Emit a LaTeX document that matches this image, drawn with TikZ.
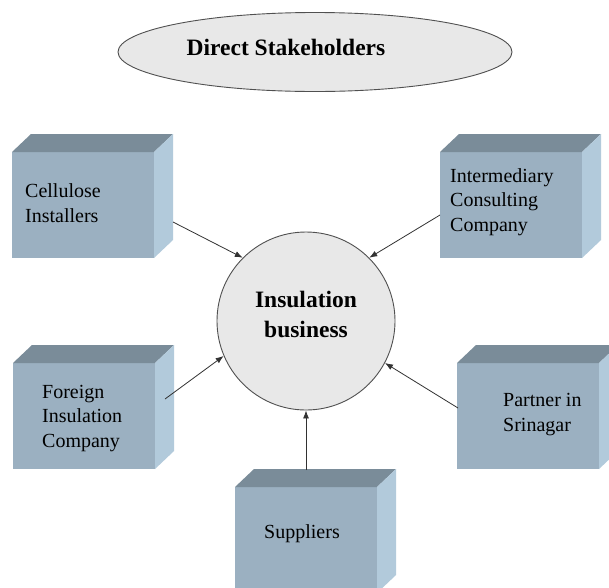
\documentclass[tikz,border=0pt]{standalone}
\usepackage{fontspec}
\setmainfont{Liberation Serif}
\usetikzlibrary{shapes.geometric,arrows.meta}
\definecolor{frontc}{RGB}{155,176,193}
\definecolor{topc}{RGB}{122,140,153}
\definecolor{sidec}{RGB}{178,202,219}
\definecolor{ovalc}{RGB}{232,232,232}
\definecolor{edgec}{RGB}{80,80,80}
\definecolor{linec}{RGB}{50,50,50}
\begin{document}
\begin{tikzpicture}[x=1pt,y=-1pt,
  front/.style={rectangle,fill=frontc,minimum width=142pt,minimum height=106pt,anchor=north west,inner sep=0pt,outer sep=0pt},
  topface/.style={fill=topc},
  sideface/.style={fill=sidec},
  lbl/.style={inner sep=0pt,align=left,anchor=base west,font=\fontsize{20}{24.5}\selectfont},
  conn/.style={draw=linec,line width=0.8pt,-{Latex[length=8pt,width=6pt]}}
]
\useasboundingbox (0,0) rectangle (609,587);
\clip (0,0) rectangle (609,587);
\fill[white] (0,0) rectangle (609,587);

% title ellipse
\node[ellipse,draw=edgec,line width=0.9pt,fill=ovalc,minimum width=394pt,minimum height=79pt,inner sep=0pt] (title) at (315,52) {};
\node[inner sep=0pt,anchor=base,font=\bfseries\fontsize{23.5}{28}\selectfont] (titletext) at (286,55) {Direct Stakeholders};

% center circle
\node[circle,draw=edgec,line width=0.9pt,fill=ovalc,minimum size=178pt,inner sep=0pt] (ins) at (306,321) {};
\node[inner sep=0pt,align=center,anchor=base,font=\bfseries\fontsize{23.5}{30}\selectfont] (instext) at (306,337) {Insulation\\business};

% boxes
\newcommand\mycube[3]{%
  \node[front] (#1) at (#2,#3) {};
  \fill[topface] (#1.north west) -- ++(19,-18) -- ([xshift=19pt,yshift=18pt]#1.north east) -- (#1.north east) -- cycle;
  \fill[sideface] (#1.north east) -- ++(19,-18) -- ([xshift=19pt,yshift=18pt]#1.south east) -- (#1.south east) -- cycle;
}
\mycube{cel}{12}{152}
\mycube{int}{440}{152}
\mycube{for}{13}{363}
\mycube{par}{457}{363}
\mycube{sup}{235}{487}

\node[lbl] (celt) at (25,222) {Cellulose\\Installers};
\node[lbl] (intt) at (450,231) {Intermediary\\Consulting\\Company};
\node[lbl] (fort) at (42,447) {Foreign\\Insulation\\Company};
\node[lbl] (part) at (503,431) {Partner in\\Srinagar};
\node[lbl,anchor=base] (supt) at (302,538) {Suppliers};

% connectors
\draw[conn] ([xshift=19pt,yshift=-17pt]cel.east) -- (ins.135);
\draw[conn] ([yshift=-10pt]int.west) -- (ins.45);
\draw[conn] ([xshift=10pt,yshift=17pt]for.east) -- (ins.203);
\draw[conn] ([xshift=1pt,yshift=8pt]par.west) -- (ins.-28);
\draw[conn] ([yshift=17pt]sup.north) -- (ins.south);
\end{tikzpicture}
\end{document}
